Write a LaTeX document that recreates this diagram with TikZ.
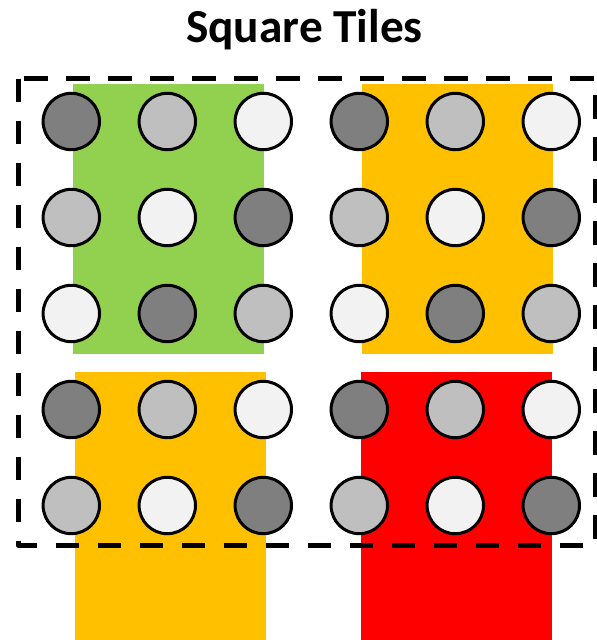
\documentclass[tikz,border=0pt]{standalone}
\usepackage{fontspec}
\setmainfont{Carlito}
\definecolor{tilegreen}{HTML}{92D050}
\definecolor{tileorange}{HTML}{FFC000}
\definecolor{tilered}{HTML}{FF0000}
\definecolor{dotshade0}{HTML}{7F7F7F}
\definecolor{dotshade1}{HTML}{BFBFBF}
\definecolor{dotshade2}{HTML}{F2F2F2}
\begin{document}
\begin{tikzpicture}[x=0.75pt, y=-0.75pt,
      tile/.style={inner sep=0pt, outer sep=0pt, anchor=north west, minimum width=143pt, minimum height=202pt},
      dot/.style={circle, draw=black, line width=2.25pt, inner sep=0pt, minimum size=42.3pt},
      frame/.style={draw=black, line width=3.75pt, dash pattern=on 17.5pt off 14pt, line join=round}]
    \useasboundingbox (0,0) rectangle (597,640);
    \node[font=\bfseries\fontsize{35.5}{42}\selectfont, anchor=base] (title) at (304.5,42.5) {Square Tiles};
    % coloured tiles behind the dots
    \node[tile, fill=tilegreen] (tileNW) at (73.3,84.3) {};
    \node[tile, fill=tileorange] (tileNE) at (362,84.3) {};
    \node[tile, fill=tileorange] (tileSW) at (75,372) {};
    \node[tile, fill=tilered] (tileSE) at (361.3,372) {};
    % 6 x 5 grid of dots, shade cycles along the diagonals
    \foreach \c in {0,...,5}
      \foreach \r in {0,...,4} {
        \pgfmathtruncatemacro\s{mod(\c+\r,3)}
        \node[dot, fill=dotshade\s] (dot-\c-\r) at (71.3+96*\c,121.5+96*\r) {};
      }
    \draw[frame] (18,78.7) rectangle (595.5,545);
  \end{tikzpicture}
\end{document}
